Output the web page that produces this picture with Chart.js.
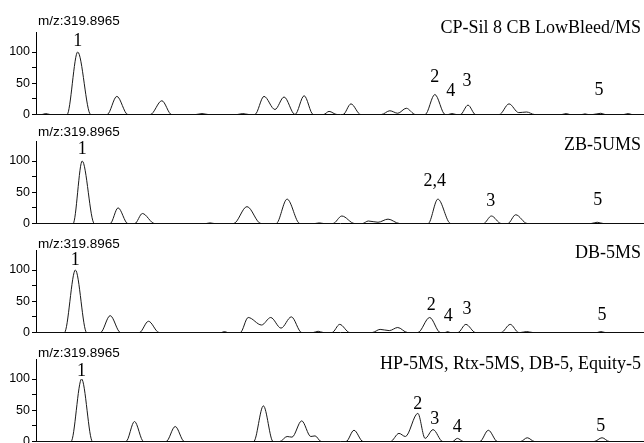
<!DOCTYPE html>
<html>
<head>
<meta charset="utf-8">
<script src="https://cdn.jsdelivr.net/npm/chart.js@4"></script>
<style>
  html, body { margin: 0; padding: 0; background: #fff; overflow: hidden; }
  #wrap { position: relative; width: 644px; height: 443px; }
  #wrap canvas { position: absolute; left: 0; }
</style>
</head>
<body>
<div id="wrap">
  <canvas id="c1" width="644" height="120" style="top:4px"></canvas>
  <canvas id="c2" width="644" height="120" style="top:113px"></canvas>
  <canvas id="c3" width="644" height="120" style="top:222px"></canvas>
  <canvas id="c4" width="644" height="120" style="top:331px"></canvas>
</div>
<script>
// retention axis runs 0..100 (arbitrary units), abundance in % of peak 1
const massLabel = 'm/z:319.8965';
const columnNames = ['CP-Sil 8 CB LowBleed/MS', 'ZB-5UMS', 'DB-5MS', 'HP-5MS, Rtx-5MS, DB-5, Equity-5'];

const cpSilTime  = [0, 1.0, 1.6, 2.3, 5.1, 6.86, 9.0, 11.7, 13.3, 15.1, 18.8, 20.7, 22.3, 26.3, 27.3, 28.3, 33.1, 34.0, 35.0,
  36.0, 37.5, 39.3, 40.8, 42.6, 44.1, 45.6, 47.3, 48.2, 49.5, 50.5, 51.8, 53.4, 56.8, 58.2, 59.5, 60.9, 62.4,
  64.0, 65.6, 67.3, 67.8, 68.4, 69.1, 69.8, 71.05, 72.3, 76.2, 77.8, 79.4, 80.7, 82.0, 86.5, 87.2, 87.8,
  89.8, 90.3, 90.8, 91.6, 92.9, 93.6, 96.7, 97.4, 98.0, 100];
const cpSilAbund = [0, 0, 1.5, 0, 0, 100, 0, 0, 29, 0, 0, 22, 0, 0, 1.5, 0, 0, 1.5, 0,
  0, 29, 8, 28, 0, 30, 0, 0, 5, 0, 0, 17, 0, 0, 6, 2, 10, 0,
  0, 32, 0, 0, 1.5, 0, 0, 15, 0, 0, 17, 3, 4, 0, 0, 1.5, 0,
  0, 1, 0, 0, 2, 0, 0, 1.5, 0, 0];
const cpSilPeakText  = ['1', '2', '4', '3', '5'];
const cpSilPeakTime  = [6.86, 65.6, 68.2, 70.9, 92.6];
const cpSilPeakLevel = [117, 59, 37, 53, 39];

const zbTime  = [0, 6.1, 7.6, 9.6, 12.2, 13.5, 15.1, 16.25, 17.5, 19.5, 28.0, 28.6, 29.3, 32.5, 34.7, 37.0,
  39.5, 41.3, 43.4, 45.9, 46.6, 47.3, 48.85, 50.3, 52.4, 53.7, 54.65, 56.25, 57.9, 59.8,
  64.5, 66.1, 68.2, 73.6, 74.9, 76.5, 77.6, 78.9, 80.8, 91.3, 92.3, 93.3, 100];
const zbAbund = [0, 0, 100, 0, 0, 25, 0, 0, 16, 0, 0, 1, 0, 0, 27, 0,
  0, 39, 0, 0, 1, 0, 0, 12, 0, 0, 4, 2, 7, 0,
  0, 39, 0, 0, 12, 0, 0, 14, 0, 0, 2, 0, 0];
const zbPeakText  = ['1', '2,4', '3', '5'];
const zbPeakTime  = [7.6, 65.6, 74.8, 92.4];
const zbPeakLevel = [118, 68, 36, 37];

const db5Time  = [0, 4.67, 6.48, 8.34, 10.6, 12.2, 13.9, 17.0, 18.5, 20.25, 30.5, 31.0, 31.5,
  33.6, 34.9, 37.1, 38.6, 40.3, 42.0, 43.7, 45.6, 46.4, 47.25, 48.7, 49.95, 51.6,
  55.3, 56.6, 58.1, 59.5, 61.1, 62.8, 64.75, 66.5, 67.3, 67.7, 68.1, 69.4, 70.7, 72.3,
  76.5, 78.0, 79.4, 79.7, 80.7, 81.7, 92.3, 92.9, 93.6, 100];
const db5Abund = [0, 0, 100, 0, 0, 27, 0, 0, 18, 0, 0, 1.5, 0,
  0, 24, 12, 24, 7, 25, 0, 0, 2, 0, 0, 13, 0,
  0, 5, 3, 8, 0, 0, 24, 0, 0, 1.5, 0, 0, 13, 0,
  0, 13, 0, 0, 1.5, 0, 0, 1.5, 0, 0];
const db5PeakText  = ['1', '2', '4', '3', '5'];
const db5PeakTime  = [6.46, 65.0, 67.8, 70.9, 93.1];
const db5PeakLevel = [115, 44, 26, 36.5, 28];

const hp5Time  = [0, 5.76, 7.5, 9.3, 14.8, 16.2, 17.7, 21.4, 22.9, 24.4, 35.8, 37.4, 39.0,
  40.1, 41.3, 42.1, 43.7, 45.2, 45.9, 46.9, 51.0, 52.3, 53.8,
  58.3, 59.7, 60.75, 62.8, 64.0, 65.3, 66.9, 68.5, 69.3, 70.3, 73.0, 74.4, 75.9,
  79.7, 80.8, 82.0, 91.8, 93.1, 94.3, 100];
const hp5Abund = [0, 0, 100, 0, 0, 32, 0, 0, 24, 0, 0, 57, 0,
  0, 8, 7, 33, 8, 9, 0, 0, 18, 0,
  0, 13, 8, 45, 5, 19, 0, 0, 5, 0, 0, 18, 0,
  0, 6, 0, 0, 6, 0, 0];
const hp5PeakText  = ['1', '2', '3', '4', '5'];
const hp5PeakTime  = [7.5, 62.8, 65.6, 69.3, 92.9];
const hp5PeakLevel = [112.5, 59, 36, 23.5, 24.5];

const yTickValues = [0, 25, 50, 75, 100];
const yTickLabels = ['0', '', '50', '', '100'];

// layout only: how far above the baseline the header texts sit (px)
const titleRise = [86, 78, 79, 77];
const mzRise = [93, 91, 88, 88];

const serif = "'Liberation Serif', 'Times New Roman', serif";
const sans = "'Liberation Sans', Arial, sans-serif";

const textPlugin = {
    id: 'chromText',
    afterDraw(chart) {
        const o = chart.options.plugins.chromText;
        const ctx = chart.ctx;
        const x = chart.scales.x, y = chart.scales.y;
        const base = chart.chartArea.bottom;
        ctx.save();
        ctx.fillStyle = '#000';
        ctx.textBaseline = 'middle';

        ctx.font = '13.5px ' + sans;
        ctx.textAlign = 'left';
        ctx.fillText(massLabel, chart.chartArea.left + 2, base - o.mzRise);

        ctx.font = '18px ' + serif;
        ctx.textAlign = 'right';
        ctx.fillText(o.title, chart.width - 3, base - o.titleRise);

        ctx.textAlign = 'center';
        o.peakText.forEach((t, i) => {
            ctx.fillText(t, x.getPixelForValue(o.peakTime[i]), y.getPixelForValue(o.peakLevel[i]));
        });
        ctx.restore();
    }
};

function makePanel(id, k, time, abund, peakText, peakTime, peakLevel) {
    const ctx = document.getElementById(id).getContext('2d');
    return new Chart(ctx, {
        type: 'line',
        data: {
            datasets: [{
                data: time.map((t, i) => ({ x: t, y: abund[i] })),
                borderColor: '#1a1a1a',
                borderWidth: 1,
                cubicInterpolationMode: 'monotone',
                fill: false,
                pointRadius: 0
            }]
        },
        options: {
            responsive: false,
            animation: false,
            events: [],
            layout: { padding: { top: 28, right: 0, bottom: 9, left: 0 } },
            plugins: {
                legend: { display: false },
                tooltip: { enabled: false },
                chromText: {
                    title: columnNames[k],
                    titleRise: titleRise[k],
                    mzRise: mzRise[k],
                    peakText: peakText,
                    peakTime: peakTime,
                    peakLevel: peakLevel
                }
            },
            scales: {
                x: {
                    type: 'linear',
                    min: 0,
                    max: 100,
                    grid: { display: false },
                    ticks: { display: false },
                    border: { color: '#000', width: 1 },
                    afterFit: s => { s.height = 0; }
                },
                y: {
                    min: 0,
                    max: 132,
                    afterBuildTicks: s => {
                        s.ticks = yTickValues.map(v => ({ value: v }));
                    },
                    ticks: {
                        autoSkip: false,
                        padding: 2,
                        color: '#000',
                        font: { family: sans, size: 12.5 },
                        callback: v => yTickLabels[yTickValues.indexOf(v)]
                    },
                    grid: { drawOnChartArea: false, tickLength: 4, color: '#000' },
                    border: { color: '#000', width: 1 },
                    afterFit: s => { s.width = 36; }
                }
            }
        },
        plugins: [textPlugin]
    });
}

makePanel('c1', 0, cpSilTime, cpSilAbund, cpSilPeakText, cpSilPeakTime, cpSilPeakLevel);
makePanel('c2', 1, zbTime, zbAbund, zbPeakText, zbPeakTime, zbPeakLevel);
makePanel('c3', 2, db5Time, db5Abund, db5PeakText, db5PeakTime, db5PeakLevel);
makePanel('c4', 3, hp5Time, hp5Abund, hp5PeakText, hp5PeakTime, hp5PeakLevel);
</script>
</body>
</html>
